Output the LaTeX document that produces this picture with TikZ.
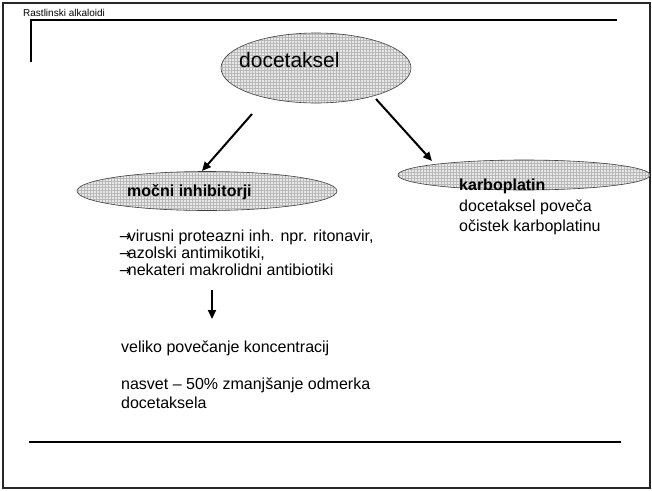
\documentclass[tikz,border=0pt]{standalone}
\usepackage{fontspec}
\setmainfont{Liberation Sans}
\newfontfamily\symfont{DejaVu Sans}
\usetikzlibrary{shapes.geometric,patterns,arrows.meta}
\newcommand{\listarrow}{{\symfont\fontsize{14}{18}\selectfont →}\kern-3pt}
\tikzset{
  bubble/.style={ellipse, draw=black!75, line width=0.6pt, inner sep=0pt,
    preaction={fill=gray!18}, pattern=grid, pattern color=gray!55},
  txt/.style={anchor=base west, inner sep=0pt, font=\fontsize{16}{19}\selectfont},
  btxt/.style={txt, font=\fontsize{16}{19}\selectfont\bfseries},
  arr/.style={line width=2pt, -{Triangle[length=9pt,width=8pt]}},
  frame/.style={draw=black!85, line width=2pt},
  rule/.style={draw=black, line width=1.2pt},
}
\begin{document}
\begin{tikzpicture}[x=1pt,y=-1pt]
\useasboundingbox (0,0) rectangle (652,490);
% slide frame
\draw[frame] (3,3) rectangle (650,488);
\node[anchor=base west, inner sep=0pt, font=\fontsize{10}{12}\selectfont] (hdr) at (23,16) {Rastlinski alkaloidi};
\draw[rule] (617,20) -- (31,20) -- (31,62);
% ellipses
\node[bubble, minimum width=190pt, minimum height=70pt] (doc) at (316,68) {};
\node[anchor=base west, inner sep=0pt, font=\fontsize{21}{24}\selectfont] (doctxt) at (239,67) {docetaksel};
\node[bubble, minimum width=260pt, minimum height=39pt] (moc) at (207,191) {};
\node[btxt] (moctxt) at (127,196) {močni inhibitorji};
\node[bubble, minimum width=252pt, minimum height=30pt] (kar) at (524,175) {};
\node[btxt] (kartxt) at (459,190) {karboplatin};
\node[txt] (kar1) at (459,211) {docetaksel poveča};
\node[txt] (kar2) at (459,231) {očistek karboplatinu};
% arrows
\coordinate (a1s) at (252,114);
\coordinate (a1e) at (202,171);
\coordinate (a2s) at (376,99);
\coordinate (a2e) at (432,161);
\draw[arr] (a1s) -- (a1e);
\draw[arr] (a2s) -- (a2e);
% list
\node[txt] (l1) at (119,241) {\listarrow virusni proteazni inh. npr. ritonavir,};
\node[txt] (l2) at (119,258) {\listarrow azolski antimikotiki,};
\node[txt] (l3) at (119,275) {\listarrow nekateri makrolidni antibiotiki};
\coordinate (a3s) at (212,290);
\coordinate (a3e) at (212,319);
\draw[arr] (a3s) -- (a3e);
\node[txt] (v1) at (121,352) {veliko povečanje koncentracij};
\node[txt] (n1) at (121,389) {nasvet – 50\% zmanjšanje odmerka};
\node[txt] (n2) at (121,408) {docetaksela};
\draw[draw=black, line width=2.5pt] (29,442) -- (621,442);
\end{tikzpicture}
\end{document}
